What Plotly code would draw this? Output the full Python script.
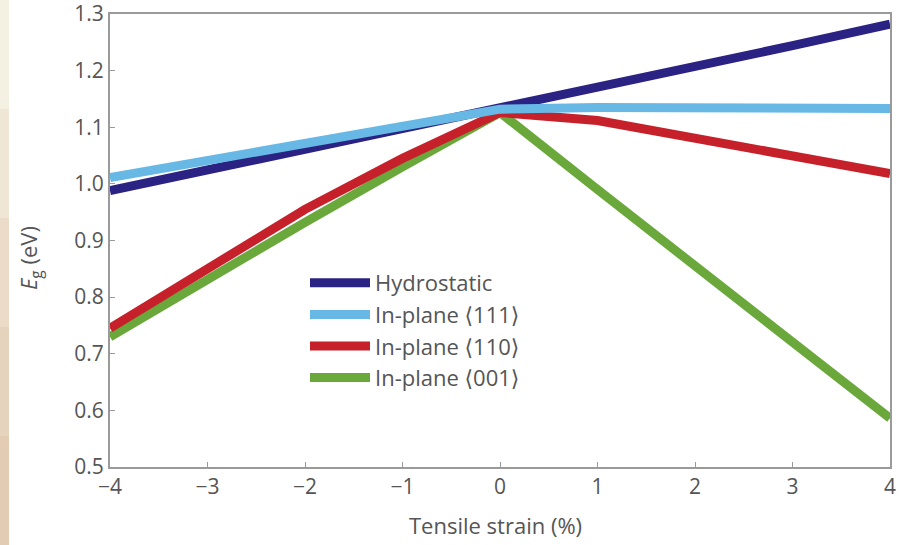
import plotly.graph_objects as go

strain = [-4, -3, -2, -1, 0, 1, 2, 3, 4]
hydrostatic = [0.988, 1.024, 1.060, 1.096, 1.132, 1.169, 1.206, 1.244, 1.282]
inplane_111 = [1.011, 1.041, 1.071, 1.101, 1.132, 1.135, 1.135, 1.134, 1.133]
inplane_110 = [0.745, 0.852, 0.955, 1.045, 1.126, 1.112, 1.082, 1.050, 1.018]
inplane_001 = [0.730, 0.832, 0.932, 1.030, 1.126, 0.990, 0.855, 0.720, 0.586]

names = ["Hydrostatic", "In-plane \u27e8111\u27e9", "In-plane \u27e8110\u27e9", "In-plane \u27e8001\u27e9"]
colors = ["#2b2383", "#68b8e6", "#c6212a", "#6aa83c"]
series = [hydrostatic, inplane_111, inplane_110, inplane_001]

x_ticks = [-4, -3, -2, -1, 0, 1, 2, 3, 4]
x_ticktext = ["\u22124", "\u22123", "\u22122", "\u22121", "0", "1", "2", "3", "4"]
y_ticks = [0.5, 0.6, 0.7, 0.8, 0.9, 1.0, 1.1, 1.2, 1.3]
y_ticktext = ["0.5", "0.6", "0.7", "0.8", "0.9", "1.0", "1.1", "1.2", "1.3"]

fig = go.Figure()
draw_order = [3, 2, 0, 1]
for i in draw_order:
    fig.add_trace(go.Scatter(
        x=strain, y=series[i], mode="lines", name=names[i],
        line=dict(color=colors[i], width=9),
        legendrank=i + 1,
    ))

font_family = "Open Sans, DejaVu Sans, sans-serif"
grey = "#555555"
axis_color = "#9a9a9a"

L, R, T, B = 110, 13, 14, 78
W, H = 903, 545
pw, ph = W - L - R, H - T - B

fig.update_layout(
    width=W, height=H,
    margin=dict(l=L, r=R, t=T, b=B, autoexpand=False),
    paper_bgcolor="white", plot_bgcolor="white",
    font=dict(family=font_family, size=22, color=grey),
    showlegend=True,
    legend=dict(
        x=(305 - L) / pw, y=(H - B - 262) / ph, xanchor="left", yanchor="top",
        bgcolor="rgba(0,0,0,0)", font=dict(size=22, color=grey),
        itemwidth=60, tracegroupgap=0,
    ),
    xaxis=dict(
        range=[-4, 4], tickvals=x_ticks, ticktext=x_ticktext,
        ticks="inside", ticklen=5, tickcolor=axis_color,
        showline=True, linecolor=axis_color, linewidth=2, mirror=True,
        showgrid=False, zeroline=False, automargin=False,
        ticklabeloverflow="allow",
        tickfont=dict(size=21, color=grey),
    ),
    yaxis=dict(
        range=[0.5, 1.3], tickvals=y_ticks, ticktext=y_ticktext,
        ticks="inside", ticklen=5, tickcolor=axis_color,
        showline=True, linecolor=axis_color, linewidth=2, mirror=True,
        showgrid=False, zeroline=False, automargin=False,
        ticklabeloverflow="allow",
        tickfont=dict(size=21, color=grey),
    ),
    annotations=[
        dict(text="Tensile strain (%)", xref="paper", yref="paper",
             x=(495 - L) / pw, y=-(525 - (H - B)) / ph, showarrow=False,
             xanchor="center", yanchor="middle", font=dict(size=22, color=grey)),
        dict(text="<i>E</i><sub>g</sub> (eV)", xref="paper", yref="paper",
             x=-(L - 30) / pw, y=(H - B - 258) / ph, showarrow=False, textangle=-90,
             xanchor="center", yanchor="middle", font=dict(size=22, color=grey)),
    ],
)

# beige strip at the left edge of the picture
strip_colors = ["#f4f0e2", "#efe6d5", "#eadcc8", "#e6d3bd", "#e3ccb4"]
n = len(strip_colors)
for k, c in enumerate(strip_colors):
    fig.add_shape(type="rect", xref="paper", yref="paper",
                  x0=-L / pw, x1=-(L - 9) / pw,
                  y0=1 + T / ph - (k + 1) * (H / ph) / n,
                  y1=1 + T / ph - k * (H / ph) / n,
                  line=dict(width=0), fillcolor=c, layer="below")

fig.write_html("out.html", config={"displayModeBar": False},
               post_script="document.body.style.margin='0px';")
